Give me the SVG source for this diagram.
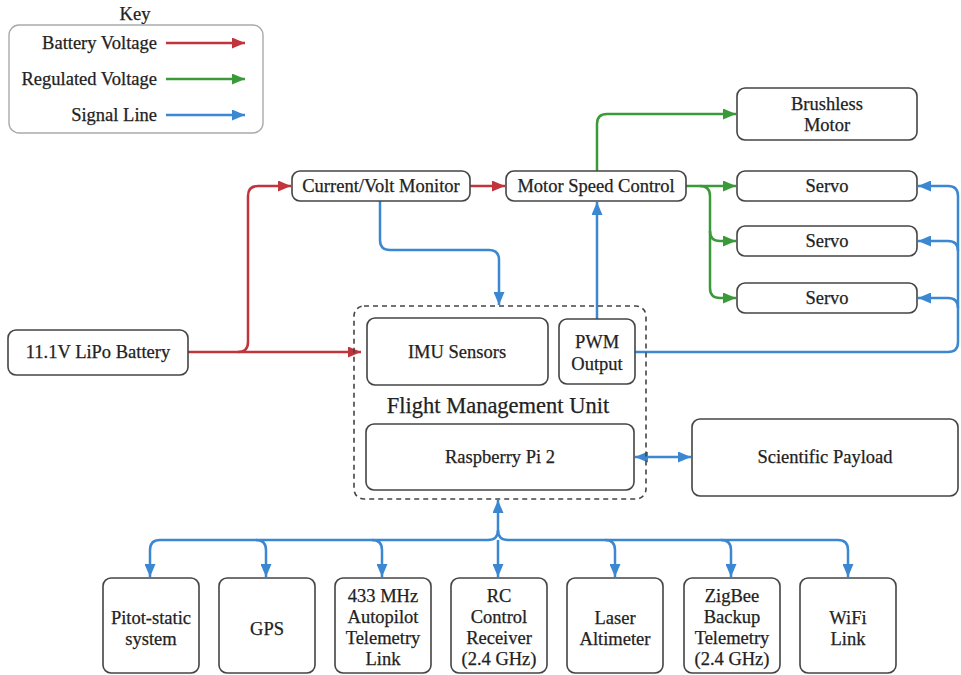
<svg xmlns="http://www.w3.org/2000/svg" width="961" height="675" viewBox="0 0 961 675" font-family="'Liberation Serif', 'Times New Roman', Tinos, 'Noto Serif', 'DejaVu Serif', serif">
<style>
.box{fill:#fff;stroke:#444;stroke-width:1.6}
.kbox{fill:#fff;stroke:#aaa;stroke-width:1.4}
.dash{fill:none;stroke:#444;stroke-width:1.6;stroke-dasharray:5,4}
text{font-family:'Liberation Serif','Times New Roman',Tinos,'Noto Serif','DejaVu Serif',serif;font-size:18.5px;fill:#222;stroke:#222;stroke-width:0.25;text-anchor:middle;dominant-baseline:central}
.r{fill:none;stroke:#c1343c;stroke-width:2.5}
.g{fill:none;stroke:#3a9a3a;stroke-width:2.5}
.b{fill:none;stroke:#3b87d1;stroke-width:2.5}
</style>
<defs>
<marker id="ar" markerUnits="userSpaceOnUse" markerWidth="13" markerHeight="11" refX="13" refY="5.5" orient="auto"><path d="M0,0 L13,5.5 L0,11 z" fill="#c1343c"/></marker>
<marker id="ag" markerUnits="userSpaceOnUse" markerWidth="13" markerHeight="11" refX="13" refY="5.5" orient="auto"><path d="M0,0 L13,5.5 L0,11 z" fill="#3a9a3a"/></marker>
<marker id="ab" markerUnits="userSpaceOnUse" markerWidth="13" markerHeight="11" refX="13" refY="5.5" orient="auto-start-reverse"><path d="M0,0 L13,5.5 L0,11 z" fill="#3b87d1"/></marker>
</defs>

<g id="key">
<text x="135" y="14">Key</text>
<rect class="kbox" x="9" y="25" width="254" height="108" rx="10"/>
<text x="157" y="43" style="text-anchor:end">Battery Voltage</text>
<text x="157" y="79" style="text-anchor:end">Regulated Voltage</text>
<text x="157" y="115" style="text-anchor:end">Signal Line</text>
<path class="r" d="M166,43 H245" marker-end="url(#ar)"/>
<path class="g" d="M166,79 H245" marker-end="url(#ag)"/>
<path class="b" d="M166,115 H245" marker-end="url(#ab)"/>
</g>

<g id="connectors">
<path class="r" d="M188,352 H361" marker-end="url(#ar)"/>
<path class="r" d="M238,352 Q248,352 248,342 V196 Q248,186 258,186 H291" marker-end="url(#ar)"/>
<path class="r" d="M470,186 H505" marker-end="url(#ar)"/>
<path class="b" d="M380,201 V240 Q380,250 390,250 H489 Q499,250 499,260 V305" marker-end="url(#ab)"/>
<path class="g" d="M597,171 V124 Q597,114 607,114 H736" marker-end="url(#ag)"/>
<path class="g" d="M686,186 H736" marker-end="url(#ag)"/>
<path class="g" d="M700,186 Q710,186 710,196 V288 Q710,298 720,298 H736" marker-end="url(#ag)"/>
<path class="g" d="M710,231 Q710,241 720,241 H736" marker-end="url(#ag)"/>
<path class="b" d="M597,319 V202" marker-end="url(#ab)"/>
<path class="b" d="M635,352 H948 Q958,352 958,342 V196 Q958,186 948,186 H918" marker-end="url(#ab)"/>
<path class="b" d="M958,251 Q958,241 948,241 H918" marker-end="url(#ab)"/>
<path class="b" d="M958,308 Q958,298 948,298 H918" marker-end="url(#ab)"/>
<path class="b" d="M635,457 H691" marker-start="url(#ab)" marker-end="url(#ab)"/>
<path class="b" d="M498,535 V500" marker-end="url(#ab)"/>
<path class="b" d="M150,577 V550 Q150,540 160,540 H488 Q498,540 498,530 Q498,540 508,540 H838 Q848,540 848,550 V577" marker-start="url(#ab)" marker-end="url(#ab)"/>
<path class="b" d="M256,540 Q266,540 266,550 V577" marker-end="url(#ab)"/>
<path class="b" d="M372,540 Q382,540 382,550 V577" marker-end="url(#ab)"/>
<path class="b" d="M498,540 V577" marker-end="url(#ab)" stroke-width="2"/>
<path class="b" d="M605,540 Q615,540 615,550 V577" marker-end="url(#ab)"/>
<path class="b" d="M721,540 Q731,540 731,550 V577" marker-end="url(#ab)"/>
</g>

<g id="current-volt-monitor"><rect class="box" x="292" y="171" width="178" height="30" rx="8"/><text x="381" y="186">Current/Volt Monitor</text></g>
<g id="motor-speed-control"><rect class="box" x="506" y="171" width="180" height="30" rx="8"/><text x="596" y="186">Motor Speed Control</text></g>
<g id="brushless-motor"><rect class="box" x="737" y="88" width="180" height="52" rx="8"/><text x="827" y="104">Brushless</text><text x="827" y="125">Motor</text></g>
<g id="servo-1"><rect class="box" x="737" y="171" width="180" height="30" rx="8"/><text x="827" y="186">Servo</text></g>
<g id="servo-2"><rect class="box" x="737" y="226" width="180" height="30" rx="8"/><text x="827" y="241">Servo</text></g>
<g id="servo-3"><rect class="box" x="737" y="283" width="180" height="30" rx="8"/><text x="827" y="298">Servo</text></g>
<g id="battery"><rect class="box" x="8" y="330" width="180" height="45" rx="8"/><text x="98" y="352">11.1V LiPo Battery</text></g>

<g id="fmu">
<rect class="dash" x="354" y="306" width="292" height="193" rx="10"/>
<text x="498" y="405" style="font-size:22.5px">Flight Management Unit</text>
</g>
<g id="imu-sensors"><rect class="box" x="367" y="318" width="181" height="67" rx="8"/><text x="457" y="352">IMU Sensors</text></g>
<g id="pwm-output"><rect class="box" x="559" y="319" width="76" height="65" rx="8"/><text x="597" y="342">PWM</text><text x="597" y="364">Output</text></g>
<g id="raspberry-pi"><rect class="box" x="366" y="424" width="268" height="66" rx="8"/><text x="500" y="457">Raspberry Pi 2</text></g>
<g id="scientific-payload"><rect class="box" x="692" y="419" width="266" height="77" rx="8"/><text x="825" y="457">Scientific Payload</text></g>

<g id="pitot"><rect class="box" x="103" y="578" width="96" height="95" rx="8"/><text x="151" y="618">Pitot-static</text><text x="151" y="639">system</text></g>
<g id="gps"><rect class="box" x="219" y="578" width="96" height="95" rx="8"/><text x="267" y="629">GPS</text></g>
<g id="telemetry-433"><rect class="box" x="335" y="578" width="96" height="95" rx="8"/><text x="383" y="596">433 MHz</text><text x="383" y="617">Autopilot</text><text x="383" y="638">Telemetry</text><text x="383" y="659">Link</text></g>
<g id="rc-receiver"><rect class="box" x="451" y="578" width="96" height="95" rx="8"/><text x="499" y="596">RC</text><text x="499" y="617">Control</text><text x="499" y="638">Receiver</text><text x="499" y="659">(2.4 GHz)</text></g>
<g id="laser-altimeter"><rect class="box" x="567" y="578" width="96" height="95" rx="8"/><text x="615" y="618">Laser</text><text x="615" y="639">Altimeter</text></g>
<g id="zigbee"><rect class="box" x="684" y="578" width="96" height="95" rx="8"/><text x="732" y="596">ZigBee</text><text x="732" y="617">Backup</text><text x="732" y="638">Telemetry</text><text x="732" y="659">(2.4 GHz)</text></g>
<g id="wifi"><rect class="box" x="800" y="578" width="96" height="95" rx="8"/><text x="848" y="618">WiFi</text><text x="848" y="639">Link</text></g>
</svg>
